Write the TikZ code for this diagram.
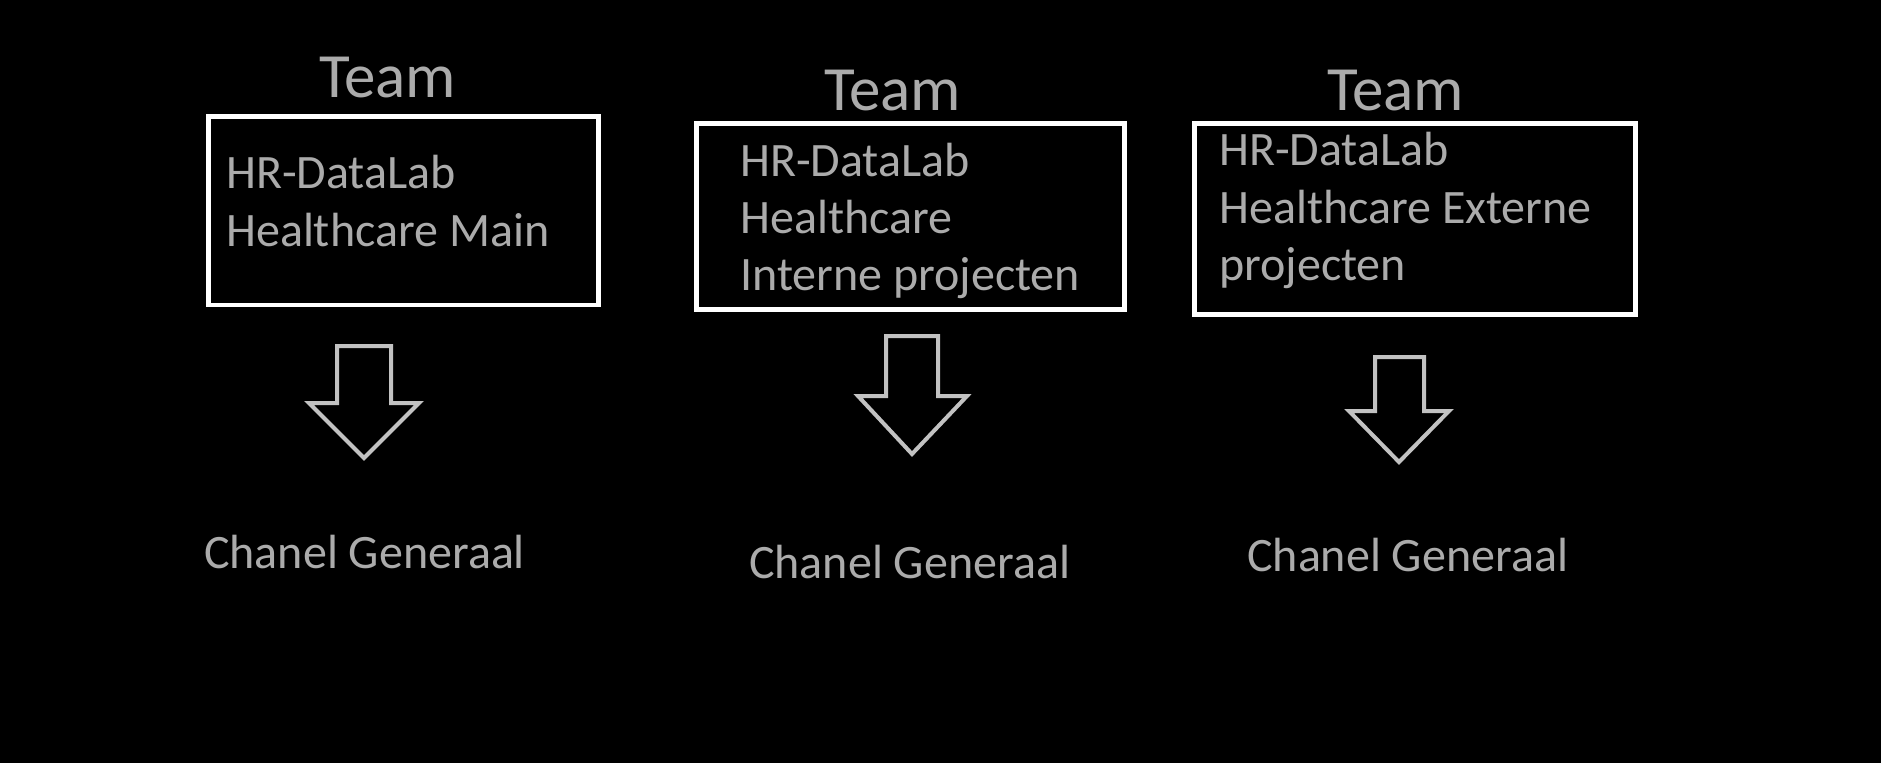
\documentclass[tikz,border=0pt]{standalone}
\usepackage{fontspec}
\setmainfont{Carlito}
\definecolor{txt}{HTML}{ABABAB}
\definecolor{arw}{HTML}{C2C2C2}
\begin{document}
\begin{tikzpicture}[x=1pt,y=-1pt,
  title/.style={text=txt,font=\fontsize{63}{75}\selectfont,anchor=base west,inner sep=0pt},
  boxline/.style={text=txt,font=\fontsize{48}{58}\selectfont,anchor=base west,inner sep=0pt},
  teambox/.style={draw=white,line width=4.7pt,inner sep=0pt},
  blockarrow/.style={draw=arw,line width=4pt,line join=miter}]
\fill[black] (0,0) rectangle (1881,763);
\useasboundingbox (0,0) rectangle (1881,763);

% titles
\node[title] (t1) at (319,97) {Team};
\node[title] (t2) at (824,110) {Team};
\node[title] (t3) at (1327,110) {Team};

% boxes
\node[teambox,minimum width=390pt,minimum height=188.5pt] (b1) at (403.5,210.75) {};
\node[teambox,minimum width=428pt,minimum height=186pt] (b2) at (910.5,216.5) {};
\node[teambox,minimum width=441pt,minimum height=191pt] (b3) at (1415,219) {};

% box texts
\node[boxline] (b1a) at (226,188) {HR-DataLab};
\node[boxline] (b1b) at (226,246) {Healthcare Main};

\node[boxline] (b2a) at (740,176) {HR-DataLab};
\node[boxline] (b2b) at (740,233) {Healthcare};
\node[boxline] (b2c) at (740,290) {Interne projecten};

\node[boxline] (b3a) at (1219,165) {HR-DataLab};
\node[boxline] (b3b) at (1219,223) {Healthcare Externe};
\node[boxline] (b3c) at (1219,280) {projecten};

% block arrows
\draw[blockarrow] (337,346) -- (391,346) -- (391,403) -- (419,403) -- (364,458) -- (309,403) -- (337,403) -- cycle;
\draw[blockarrow] (886,336) -- (938,336) -- (938,396) -- (967,396) -- (912,454) -- (858,396) -- (886,396) -- cycle;
\draw[blockarrow] (1375,357) -- (1424,357) -- (1424,411) -- (1449,411) -- (1399,462) -- (1349,411) -- (1375,411) -- cycle;

% bottom labels
\node[boxline] (c1) at (204,568) {Chanel Generaal};
\node[boxline] (c2) at (749,578) {Chanel Generaal};
\node[boxline] (c3) at (1247,571) {Chanel Generaal};
\end{tikzpicture}
\end{document}
